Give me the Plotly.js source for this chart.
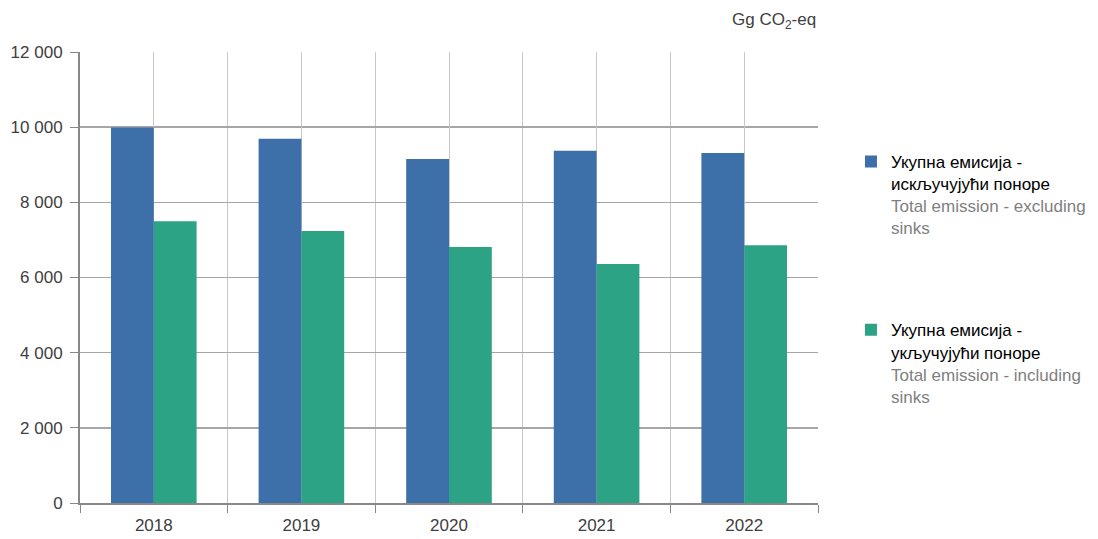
<!DOCTYPE html>
<html>
<head>
<meta charset="utf-8">
<script src="https://cdn.plot.ly/plotly-3.0.1.min.js"></script>
<style>html,body{margin:0;padding:0;background:#fff;}#chart{width:1098px;height:539px;}</style>
</head>
<body>
<div id="chart"></div>
<script>
const years = ['2018', '2019', '2020', '2021', '2022'];
const excludingSinks = [9990, 9690, 9150, 9370, 9310];
const includingSinks = [7500, 7240, 6810, 6360, 6860];
const seriesNames = [
  'Укупна емисија -<br>искључујући поноре<br><span style="color:#7f7f7f">Total emission - excluding<br>sinks</span>',
  'Укупна емисија -<br>укључујући поноре<br><span style="color:#7f7f7f">Total emission - including<br>sinks</span>'
];
const yTicks = [0, 2000, 4000, 6000, 8000, 10000, 12000];
const unitLabel = 'Gg CO<sub>2</sub>-eq';

const font = 'Liberation Sans, Arial, sans-serif';

const traces = [
  {type: 'bar', x: years, y: excludingSinks, name: seriesNames[0], marker: {color: '#3d6fa9'}, legendgroup: 'a', hoverinfo: 'y'},
  {type: 'bar', x: years, y: includingSinks, name: seriesNames[1], marker: {color: '#2ba384'}, legendgroup: 'b', hoverinfo: 'y'},
  {type: 'scatter', x: [0], y: [0], xaxis: 'x2', mode: 'markers', marker: {opacity: 0}, showlegend: false, hoverinfo: 'skip'}
];

const layout = {
  width: 1098, height: 539,
  margin: {l: 80, r: 280, t: 52, b: 36, autoexpand: false},
  paper_bgcolor: '#fff', plot_bgcolor: '#fff',
  separators: '. ',
  barmode: 'group', bargap: 0.42, bargroupgap: 0,
  font: {family: font, size: 17, color: '#404040'},
  xaxis: {
    type: 'category', tickson: 'boundaries', ticks: 'outside', ticklen: 8, tickcolor: '#888',
    showgrid: true, gridcolor: '#c8c8c8', gridwidth: 1,
    showline: true, linecolor: '#888', linewidth: 2,
    ticklabelstandoff: 6,
    tickfont: {family: font, size: 17, color: '#404040'},
    range: [-0.5, 4.5], fixedrange: true
  },
  xaxis2: {
    overlaying: 'x', type: 'linear', range: [-0.5, 4.5],
    tickvals: [0, 1, 2, 3, 4], showticklabels: false, ticks: '',
    showgrid: true, gridcolor: '#c8c8c8', gridwidth: 1, zeroline: false, showline: false
  },
  yaxis: {
    range: [0, 12000], tickvals: yTicks, tickformat: ',d',
    ticks: 'outside', ticklen: 8, tickcolor: '#888',
    showgrid: true, gridcolor: '#a6a6a6', gridwidth: 1.5,
    showline: true, linecolor: '#888', linewidth: 2,
    zeroline: false, ticklabelstandoff: 4,
    tickfont: {family: font, size: 17, color: '#404040'}
  },
  legend: {
    xref: 'container', yref: 'container',
    x: 0.775, xanchor: 'left', y: 0.733, yanchor: 'top',
    traceorder: 'grouped', tracegroupgap: 77, valign: 'top',
    font: {family: font, size: 17, color: '#000'},
    bgcolor: 'rgba(0,0,0,0)'
  },
  annotations: [{
    text: unitLabel, xref: 'paper', yref: 'paper', x: 1, y: 1, xanchor: 'right', yanchor: 'bottom',
    yshift: 18, showarrow: false, font: {family: font, size: 17, color: '#404040'}
  }],
  showlegend: true
};

Plotly.newPlot('chart', traces, layout, {displayModeBar: false, staticPlot: true});
</script>
</body>
</html>
